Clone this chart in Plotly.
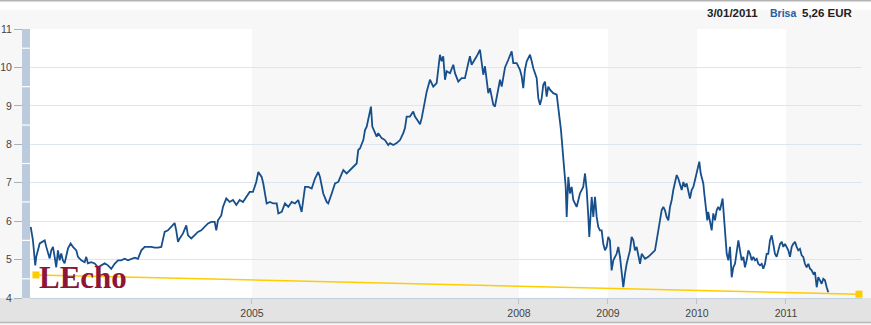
import plotly.graph_objects as go

# ---- data ----
years = [2002.514, 2002.539, 2002.565, 2002.576, 2002.615, 2002.652, 2002.671, 2002.689, 2002.708, 2002.727,
         2002.745, 2002.764, 2002.783, 2002.801, 2002.820, 2002.839, 2002.857, 2002.876, 2002.895, 2002.913,
         2002.933, 2002.963, 2002.989, 2003.026, 2003.045, 2003.082, 2003.120, 2003.138, 2003.157, 2003.194,
         2003.233, 2003.270, 2003.307, 2003.345, 2003.382, 2003.419, 2003.457, 2003.494, 2003.531, 2003.570,
         2003.607, 2003.644, 2003.683, 2003.719, 2003.757, 2003.795, 2003.831, 2003.869, 2003.907, 2003.944,
         2003.981, 2004.000, 2004.019, 2004.056, 2004.093, 2004.131, 2004.149, 2004.169, 2004.188, 2004.225,
         2004.262, 2004.281, 2004.318, 2004.356, 2004.393, 2004.430, 2004.469, 2004.506, 2004.543, 2004.581,
         2004.599, 2004.618, 2004.655, 2004.674, 2004.711, 2004.749, 2004.787, 2004.824, 2004.862, 2004.899,
         2004.936, 2004.974, 2005.011, 2005.048, 2005.071, 2005.109, 2005.127, 2005.146, 2005.165, 2005.202,
         2005.239, 2005.278, 2005.296, 2005.334, 2005.371, 2005.408, 2005.446, 2005.483, 2005.520, 2005.558,
         2005.596, 2005.633, 2005.671, 2005.708, 2005.745, 2005.764, 2005.801, 2005.839, 2005.857, 2005.896,
         2005.933, 2005.970, 2006.026, 2006.064, 2006.101, 2006.138, 2006.176, 2006.194, 2006.213, 2006.251,
         2006.270, 2006.289, 2006.307, 2006.326, 2006.337, 2006.352, 2006.371, 2006.401, 2006.419, 2006.457,
         2006.494, 2006.531, 2006.551, 2006.588, 2006.626, 2006.663, 2006.700, 2006.719, 2006.738, 2006.775,
         2006.812, 2006.831, 2006.869, 2006.888, 2006.907, 2006.925, 2006.944, 2006.963, 2007.000, 2007.037,
         2007.075, 2007.112, 2007.131, 2007.149, 2007.169, 2007.187, 2007.225, 2007.262, 2007.281, 2007.318,
         2007.356, 2007.393, 2007.430, 2007.449, 2007.468, 2007.506, 2007.525, 2007.562, 2007.581, 2007.599,
         2007.618, 2007.637, 2007.655, 2007.674, 2007.711, 2007.730, 2007.749, 2007.787, 2007.806, 2007.843,
         2007.880, 2007.918, 2007.936, 2007.974, 2008.011, 2008.030, 2008.048, 2008.067, 2008.087, 2008.124,
         2008.143, 2008.161, 2008.199, 2008.217, 2008.236, 2008.255, 2008.273, 2008.292, 2008.311, 2008.329,
         2008.348, 2008.385, 2008.424, 2008.442, 2008.461, 2008.472, 2008.487, 2008.498, 2008.509, 2008.525,
         2008.536, 2008.554, 2008.573, 2008.592, 2008.610, 2008.648, 2008.685, 2008.722, 2008.742, 2008.761,
         2008.779, 2008.790, 2008.817, 2008.835, 2008.854, 2008.873, 2008.891, 2008.910, 2008.929, 2008.947,
         2008.966, 2008.985, 2009.003, 2009.022, 2009.041, 2009.060, 2009.097, 2009.116, 2009.135, 2009.154,
         2009.172, 2009.191, 2009.210, 2009.247, 2009.266, 2009.285, 2009.303, 2009.322, 2009.341, 2009.360,
         2009.379, 2009.416, 2009.453, 2009.491, 2009.528, 2009.547, 2009.565, 2009.584, 2009.603, 2009.622,
         2009.640, 2009.659, 2009.678, 2009.697, 2009.716, 2009.734, 2009.753, 2009.772, 2009.790, 2009.809,
         2009.828, 2009.847, 2009.865, 2009.884, 2009.903, 2009.921, 2009.940, 2009.959, 2009.978, 2009.997,
         2010.015, 2010.026, 2010.042, 2010.053, 2010.071, 2010.082, 2010.101, 2010.116, 2010.126, 2010.146,
         2010.165, 2010.183, 2010.202, 2010.221, 2010.239, 2010.258, 2010.277, 2010.288, 2010.303, 2010.318,
         2010.334, 2010.352, 2010.371, 2010.390, 2010.408, 2010.427, 2010.446, 2010.465, 2010.483, 2010.502,
         2010.521, 2010.539, 2010.558, 2010.577, 2010.596, 2010.615, 2010.633, 2010.652, 2010.671, 2010.689,
         2010.708, 2010.727, 2010.745, 2010.764, 2010.783, 2010.801, 2010.820, 2010.839, 2010.857, 2010.876,
         2010.895, 2010.913, 2010.933, 2010.952, 2010.970, 2010.989, 2011.008, 2011.026, 2011.045, 2011.064,
         2011.082, 2011.101, 2011.120, 2011.138, 2011.157, 2011.176, 2011.194, 2011.213, 2011.232, 2011.251,
         2011.270, 2011.289, 2011.307, 2011.326, 2011.345, 2011.363, 2011.382, 2011.401, 2011.419, 2011.438,
         2011.457, 2011.475]
prices = [5.85, 5.50, 4.85, 5.07, 5.42, 5.46, 5.50, 5.33, 5.16, 5.03,
          5.24, 5.33, 5.07, 4.80, 5.24, 4.98, 5.16, 4.98, 4.90, 5.07,
          5.29, 5.42, 5.33, 5.24, 5.07, 4.98, 4.93, 5.07, 4.90, 4.93,
          4.90, 4.80, 4.85, 4.90, 4.85, 4.76, 4.89, 4.98, 4.98, 5.02,
          4.98, 5.02, 5.05, 5.02, 5.24, 5.33, 5.33, 5.33, 5.31, 5.31,
          5.33, 5.55, 5.72, 5.76, 5.85, 5.95, 5.76, 5.46, 5.55, 5.68,
          5.89, 5.63, 5.55, 5.63, 5.72, 5.76, 5.85, 5.94, 5.98, 5.98,
          5.76, 6.02, 6.15, 6.37, 6.59, 6.50, 6.55, 6.42, 6.55, 6.50,
          6.63, 6.76, 6.76, 7.02, 7.28, 7.15, 6.98, 6.72, 6.46, 6.50,
          6.46, 6.46, 6.20, 6.24, 6.46, 6.37, 6.50, 6.46, 6.55, 6.24,
          6.89, 6.89, 6.85, 7.11, 7.28, 7.15, 6.72, 6.50, 6.46, 6.72,
          6.98, 7.02, 7.33, 7.24, 7.33, 7.41, 7.50, 7.85, 7.89, 8.11,
          8.37, 8.46, 8.68, 8.81, 8.98, 8.46, 8.37, 8.20, 8.29, 8.16,
          8.11, 7.98, 8.03, 7.98, 8.03, 8.11, 8.29, 8.42, 8.72, 8.72,
          8.85, 8.72, 8.59, 8.52, 8.68, 8.90, 9.16, 9.37, 9.68, 9.50,
          9.59, 10.33, 10.16, 10.29, 9.68, 9.90, 9.85, 10.07, 9.85, 9.63,
          9.72, 9.72, 10.11, 10.29, 10.07, 10.20, 10.29, 10.46, 10.11, 9.81,
          10.03, 9.59, 9.33, 9.46, 9.03, 8.98, 9.24, 9.68, 9.50, 10.00,
          10.20, 10.42, 10.11, 10.11, 9.94, 9.77, 9.46, 9.94, 10.16, 10.33,
          10.16, 9.98, 9.72, 9.20, 9.03, 9.20, 9.55, 9.63, 9.24, 9.50,
          9.42, 9.33, 9.29, 8.98, 8.68, 8.37, 7.94, 7.59, 7.33, 6.89,
          6.11, 7.15, 6.72, 6.89, 6.55, 6.37, 6.72, 6.89, 7.24, 6.81,
          6.11, 5.59, 6.63, 6.11, 6.63, 6.11, 5.85, 5.76, 5.76, 5.41,
          5.24, 5.33, 5.59, 5.50, 4.72, 4.98, 5.15, 5.33, 5.07, 4.63,
          4.28, 4.63, 4.89, 5.24, 5.59, 5.50, 5.24, 5.33, 5.15, 4.89,
          5.15, 5.02, 5.07, 5.15, 5.24, 5.50, 5.76, 6.02, 6.28, 6.37,
          6.28, 6.11, 6.02, 6.37, 6.55, 6.81, 6.98, 7.20, 7.11, 6.98,
          6.81, 7.02, 6.89, 6.98, 6.72, 6.59, 6.81, 6.89, 7.07, 7.24,
          7.41, 7.55, 7.24, 7.15, 6.98, 6.72, 6.37, 6.02, 6.24, 5.94,
          5.76, 6.20, 6.02, 6.28, 6.37, 6.28, 6.46, 6.59, 6.11, 5.50,
          5.15, 4.98, 5.33, 4.54, 4.80, 4.89, 5.15, 5.50, 5.24, 4.98,
          5.07, 4.80, 4.98, 5.24, 5.15, 4.98, 5.07, 4.98, 5.02, 4.89,
          4.85, 4.89, 4.76, 4.89, 5.15, 5.15, 5.50, 5.63, 5.41, 5.15,
          5.07, 5.24, 5.41, 5.46, 5.33, 5.41, 5.33, 5.24, 5.07, 5.33,
          5.41, 5.46, 5.33, 5.24, 5.28, 5.11, 5.07, 4.89, 4.80, 4.89,
          4.76, 4.72, 4.63, 4.67, 4.28, 4.54, 4.46, 4.37, 4.50, 4.46,
          4.28, 4.15]

trend_years = [2002.573, 2011.82]
trend_values = [4.60, 4.10]

tick_years = [2005, 2008, 2009, 2010, 2011]
tick_labels = ["2005", "2008", "2009", "2010", "2011"]
shaded_bands = [(2005, 2008), (2009, 2010), (2011, 2011.854)]

x_range = [2002.506, 2011.854]
y_range = [4, 11]
y_ticks = [4, 5, 6, 7, 8, 9, 10, 11]

header_date = "3/01/2011"
header_name = "Brisa"
header_value = "5,26 EUR"

# ---- figure ----
W, H = 871, 325
ML, MR, MT, MB = 22, 9, 29, 27
PW = W - ML - MR
PH = H - MT - MB

fig = go.Figure()
fig.add_trace(go.Scatter(x=trend_years, y=trend_values, mode="lines+markers",
                         line=dict(color="#ffcc00", width=1.5),
                         marker=dict(symbol="square", size=7, color="#ffcc00"),
                         cliponaxis=False, hoverinfo="skip"))
fig.add_trace(go.Scatter(x=years, y=prices, mode="lines",
                         line=dict(color="#164f8c", width=1.8)))

shapes = []
for a, b in shaded_bands:
    shapes.append(dict(type="rect", xref="x", yref="paper", x0=a, x1=b, y0=0, y1=1,
                       fillcolor="#f7f7f7", line=dict(width=0), layer="below"))
# top white header strip and line
shapes.append(dict(type="rect", xref="paper", yref="paper", x0=-ML / PW, x1=1 + MR / PW,
                   y0=1 + 19 / PH, y1=1 + MT / PH, fillcolor="white", line=dict(width=0), layer="below"))
shapes.append(dict(type="line", xref="paper", yref="paper", x0=-ML / PW, x1=1 + MR / PW,
                   y0=1 + (MT - 0.5) / PH, y1=1 + (MT - 0.5) / PH, line=dict(color="#b4b4b4", width=2)))
# bottom axis band
shapes.append(dict(type="rect", xref="paper", yref="paper", x0=-ML / PW, x1=1 + MR / PW,
                   y0=-24 / PH, y1=0, fillcolor="#e3e3e3", line=dict(width=0), layer="below"))
shapes.append(dict(type="line", xref="paper", yref="paper", x0=-ML / PW, x1=1 + MR / PW,
                   y0=-24.5 / PH, y1=-24.5 / PH, line=dict(color="#b8b8b8", width=1.5)))
# left blue navigator bar
shapes.append(dict(type="rect", xref="paper", yref="y", x0=0, x1=8 / PW, y0=4, y1=11,
                   fillcolor="#bccbdc", line=dict(width=0), layer="above"))
for v in [4.5, 5.5, 6.5, 7.5, 8.5, 9.5, 10.5]:
    shapes.append(dict(type="line", xref="paper", yref="y", x0=0, x1=8 / PW, y0=v, y1=v,
                       line=dict(color="white", width=1.2), layer="above"))

hdr_font = dict(family="Liberation Sans", size=11.5, color="#222222")
ann = [
    dict(text="<b>" + header_date + "</b>", xref="paper", yref="paper", x=(760 - ML) / PW,
         y=1 + 16 / PH, xanchor="right", yanchor="middle", showarrow=False, font=hdr_font),
    dict(text="<b>" + header_name + "</b>", xref="paper", yref="paper", x=(768 - ML) / PW,
         y=1 + 16 / PH, xanchor="left", yanchor="middle", showarrow=False,
         font=dict(family="Liberation Sans", size=10.5, color="#1d5ea6")),
    dict(text="<b>" + header_value + "</b>", xref="paper", yref="paper", x=(800 - ML) / PW,
         y=1 + 16 / PH, xanchor="left", yanchor="middle", showarrow=False, font=hdr_font),
    dict(text="<b>LEcho</b>", xref="paper", yref="paper", x=(37 - ML) / PW, y=(298 - 277) / PH,
         xanchor="left", yanchor="middle", showarrow=False,
         font=dict(family="Liberation Serif", size=31, color="#8c1538")),
]

fig.update_layout(
    width=W, height=H, margin=dict(l=ML, r=MR, t=MT, b=MB, pad=0, autoexpand=False),
    paper_bgcolor="#f7f7f7", plot_bgcolor="white", showlegend=False,
    shapes=shapes, annotations=ann,
    xaxis=dict(domain=[8 / PW, 1], range=x_range, tickvals=tick_years, ticktext=tick_labels,
               showgrid=False, zeroline=False, ticks="outside", ticklen=5, tickcolor="#b5c4d3",
               showline=True, linecolor="#c3d0de", linewidth=1, automargin=False,
               tickfont=dict(family="Liberation Sans", size=10.5, color="#444444")),
    yaxis=dict(range=y_range, tickvals=y_ticks, anchor="free", position=0, automargin=False,
               showgrid=True, gridcolor="#dde6ef", gridwidth=1, zeroline=False,
               ticks="outside", ticklen=8, tickcolor="#a8b2bc", showline=False,
               tickfont=dict(family="Liberation Sans", size=10.5, color="#444444")),
)

fig.write_html("out.html")
